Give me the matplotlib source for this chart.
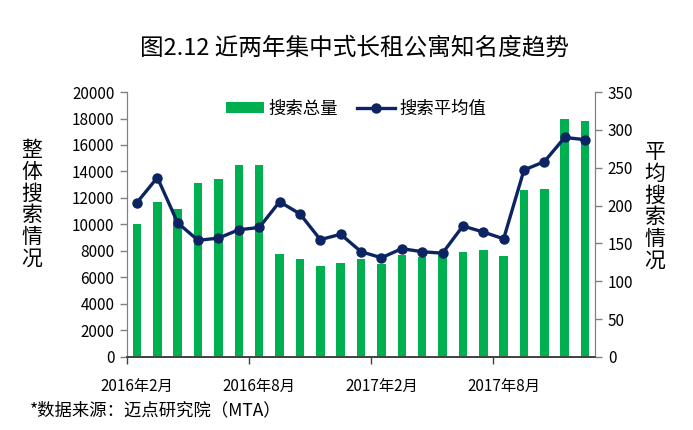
import matplotlib
matplotlib.use('Agg')
import matplotlib.pyplot as plt
from matplotlib.ticker import FixedLocator, NullFormatter

plt.rcParams['font.family'] = ['Noto Sans CJK SC', 'DejaVu Sans']

# データ
months = ['2016年2月', '2016年3月', '2016年4月', '2016年5月', '2016年6月', '2016年7月',
          '2016年8月', '2016年9月', '2016年10月', '2016年11月', '2016年12月', '2017年1月',
          '2017年2月', '2017年3月', '2017年4月', '2017年5月', '2017年6月', '2017年7月',
          '2017年8月', '2017年9月', '2017年10月', '2017年11月', '2017年12月']
search_total = [10000, 11700, 11200, 13100, 13400, 14500, 14500, 7800, 7400, 6900, 7100, 7400,
                7000, 7700, 7550, 7700, 7950, 8050, 7650, 12600, 12700, 18000, 17800]
search_avg = [204, 237, 177, 154, 157, 168, 171, 205, 189, 155, 162, 139,
              131, 143, 139, 137, 173, 165, 156, 247, 258, 290, 287]
label_months = ['2016年2月', '2016年8月', '2017年2月', '2017年8月']

green = '#00B050'
navy = '#0C2461'
axis_gray = '#808080'

fig = plt.figure(figsize=(6.93, 4.30), dpi=100)
ax = fig.add_axes([0.183, 0.170, 0.676, 0.616])
ax2 = ax.twinx()

x = list(range(len(months)))
bars = ax.bar(x, search_total, width=0.42, color=green, label='搜索总量', zorder=2)
line, = ax2.plot(x, search_avg, color=navy, linewidth=2.4, marker='o', markersize=6.5,
                 label='搜索平均值', zorder=3)

ax.set_xlim(-0.5, len(months) - 0.5)
ax.set_ylim(0, 20000)
ax.set_yticks(range(0, 20001, 2000))
ax2.set_ylim(0, 350)
ax2.set_yticks(range(0, 351, 50))

# x軸: ラベルは棒の中央、目盛りは6か月ごとの境目
label_pos = [months.index(m) for m in label_months]
ax.set_xticks(label_pos)
ax.set_xticklabels(label_months, fontsize=11)
ax.tick_params(axis='x', which='major', length=0, pad=15)
ax.xaxis.set_minor_locator(FixedLocator([p - 0.5 for p in label_pos]))
ax.xaxis.set_minor_formatter(NullFormatter())
ax.tick_params(axis='x', which='minor', length=5, width=1, color='#404040', direction='out')

ax.tick_params(axis='y', labelsize=11, length=5, width=1, color=axis_gray, direction='out', pad=4)
ax2.tick_params(axis='y', labelsize=11, length=5, width=1, color=axis_gray, direction='out', pad=4)

for a in (ax, ax2):
    a.spines['top'].set_visible(False)
    a.spines['left'].set_color(axis_gray)
    a.spines['right'].set_color(axis_gray)
    a.spines['bottom'].set_color('#404040')
    a.spines['bottom'].set_linewidth(1.2)

ax.set_zorder(ax2.get_zorder() - 1)
ax2.patch.set_visible(False)

# 凡例
ax2.legend([bars, line], ['搜索总量', '搜索平均值'], loc='upper center',
           bbox_to_anchor=(0.49, 1.03), ncol=2, frameon=False, fontsize=12.5,
           handlelength=2.2, handleheight=0.55, columnspacing=1.1, handletextpad=0.25)

# タイトル・軸ラベル・出典
fig.text(0.512, 0.888, '图2.12 近两年集中式长租公寓知名度趋势', ha='center', va='center', fontsize=17)
fig.text(0.046, 0.525, '\n'.join('整体搜索情况'), ha='center', va='center', fontsize=15,
         linespacing=0.98)
fig.text(0.945, 0.52, '\n'.join('平均搜索情况'), ha='center', va='center', fontsize=15,
         linespacing=0.98)
fig.text(0.043, 0.046, '*数据来源：迈点研究院（MTA）', ha='left', va='center', fontsize=12.5)

plt.savefig('out.png', dpi=100)
